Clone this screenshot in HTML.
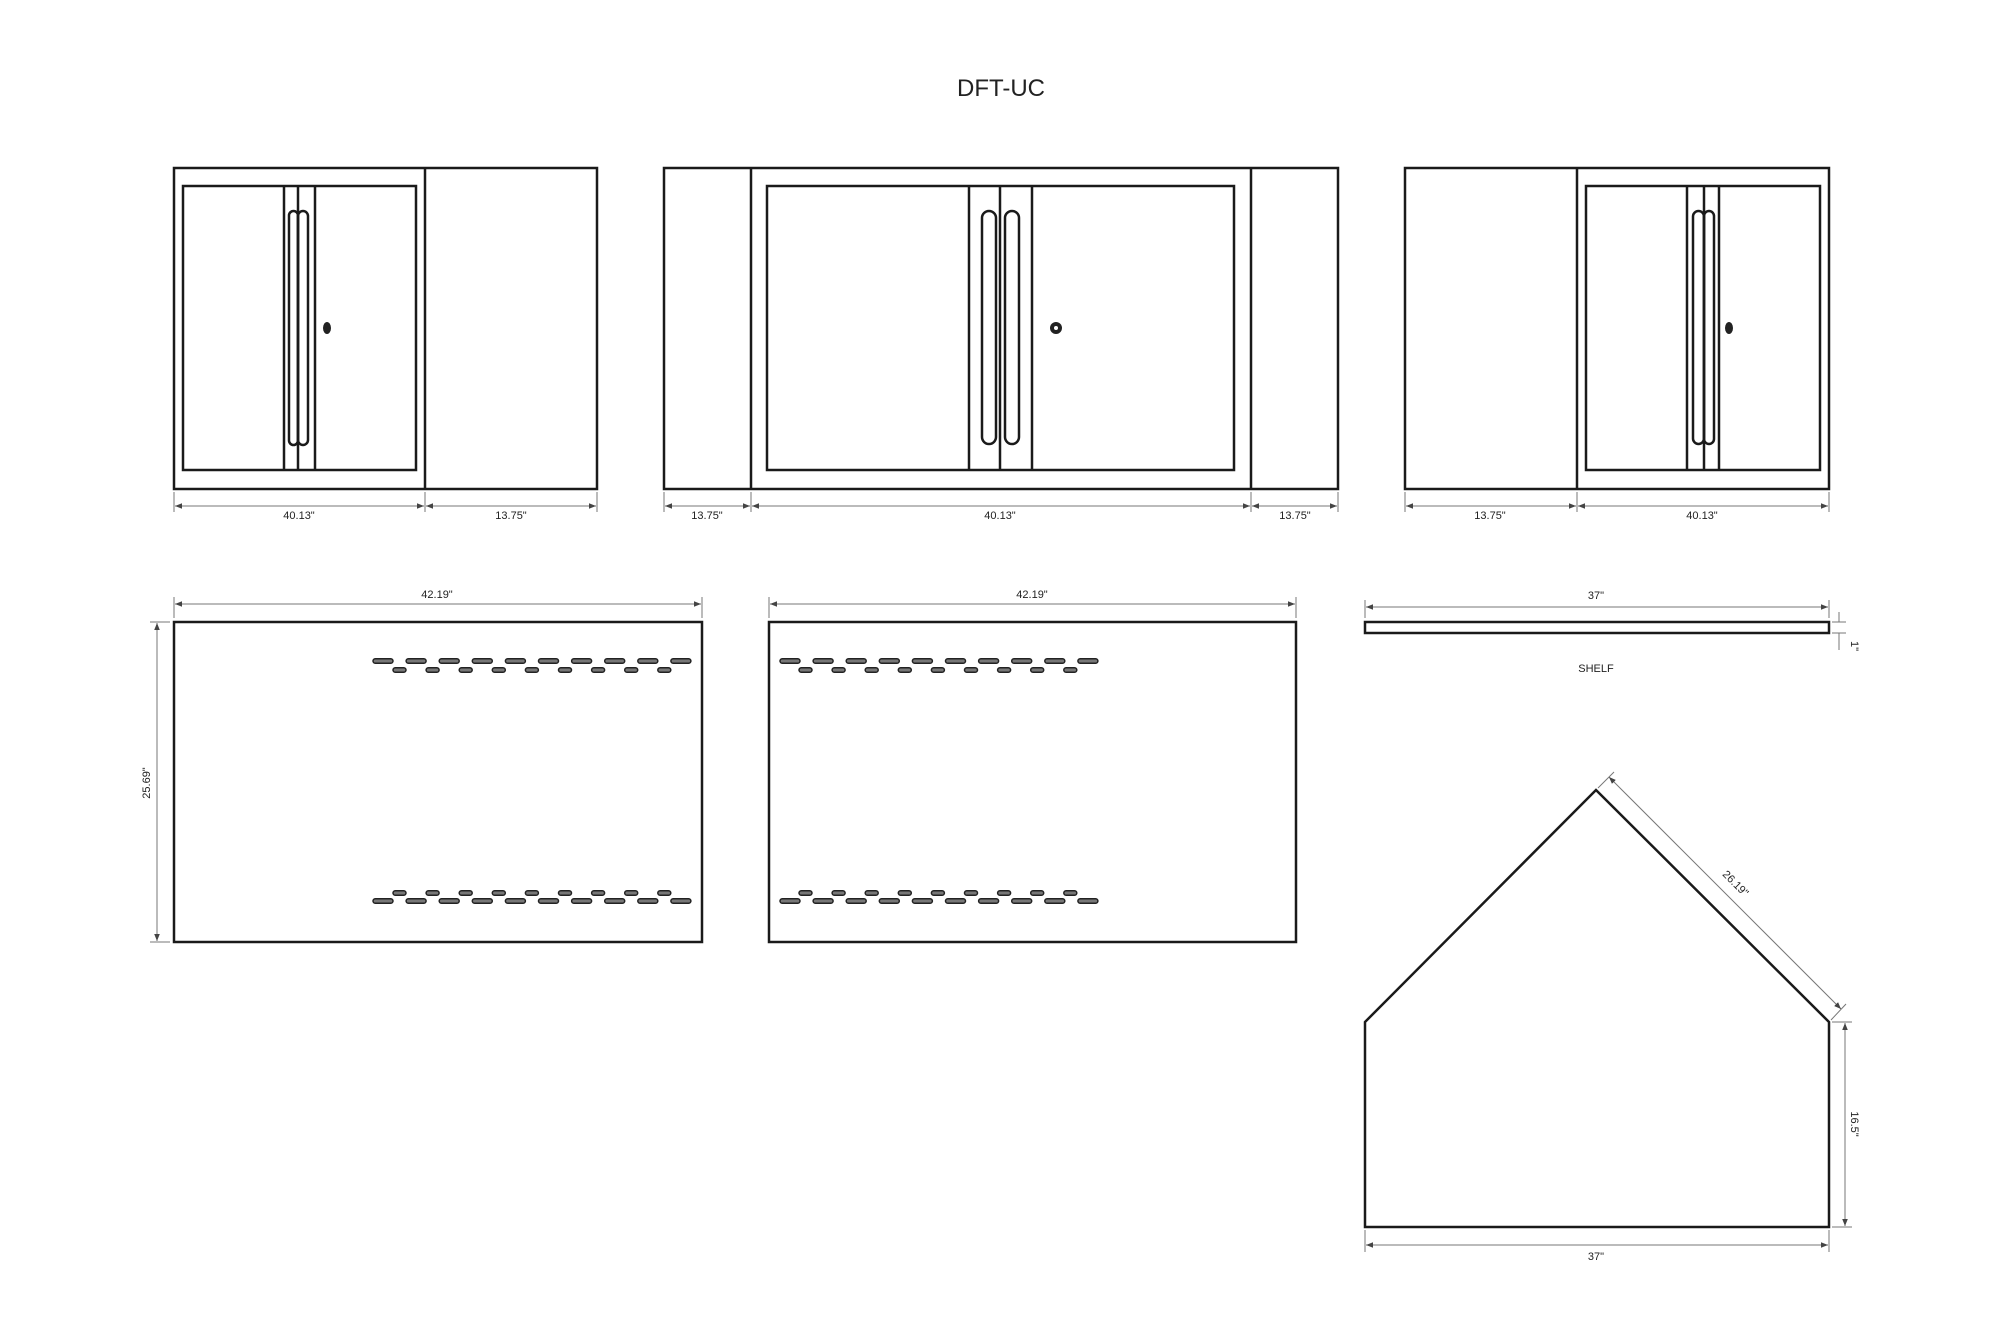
<!DOCTYPE html>
<html><head><meta charset="utf-8"><style>
html,body{margin:0;padding:0;background:#fff;}
svg{display:block;}
text{font-family:"Liberation Sans",sans-serif;fill:#222;}
</style></head><body>
<svg width="2000" height="1334" viewBox="0 0 2000 1334" xmlns="http://www.w3.org/2000/svg">
<defs>
<marker id="a" viewBox="0 0 10 10" refX="10" refY="5" markerWidth="7" markerHeight="7" orient="auto-start-reverse"><path d="M0,1 L10,5 L0,9 z" fill="#444"/></marker>
<g id="l"><rect x="0" y="-2.3" width="20" height="4.6" rx="2.3" fill="#777" stroke="#222" stroke-width="1.5"/></g>
<g id="s"><rect x="0" y="-2.3" width="13" height="4.6" rx="2.3" fill="#777" stroke="#222" stroke-width="1.5"/></g>
<g id="lrow"><use href="#l" x="0"/><use href="#l" x="33.1"/><use href="#l" x="66.2"/><use href="#l" x="99.3"/><use href="#l" x="132.4"/><use href="#l" x="165.5"/><use href="#l" x="198.6"/><use href="#l" x="231.7"/><use href="#l" x="264.8"/><use href="#l" x="297.9"/></g>
<g id="srow"><use href="#s" x="0"/><use href="#s" x="33.1"/><use href="#s" x="66.2"/><use href="#s" x="99.3"/><use href="#s" x="132.4"/><use href="#s" x="165.5"/><use href="#s" x="198.6"/><use href="#s" x="231.7"/><use href="#s" x="264.8"/></g>
</defs>
<text x="1001" y="96" font-size="24" text-anchor="middle">DFT-UC</text>

<g fill="none" stroke="#1a1a1a" stroke-width="2.5">
<!-- left cabinet -->
<rect x="174" y="168" width="423" height="321"/>
<line x1="425" y1="168" x2="425" y2="489"/>
<rect x="183" y="186" width="233" height="284"/>
<line x1="284" y1="186" x2="284" y2="470"/>
<line x1="298" y1="186" x2="298" y2="470"/>
<line x1="315" y1="186" x2="315" y2="470"/>
<rect x="289" y="211" width="9" height="234" rx="4.5"/>
<rect x="298" y="211" width="10" height="234" rx="5"/>
<!-- middle cabinet -->
<rect x="664" y="168" width="674" height="321"/>
<line x1="751" y1="168" x2="751" y2="489"/>
<line x1="1251" y1="168" x2="1251" y2="489"/>
<rect x="767" y="186" width="467" height="284"/>
<line x1="969" y1="186" x2="969" y2="470"/>
<line x1="1000" y1="186" x2="1000" y2="470"/>
<line x1="1032" y1="186" x2="1032" y2="470"/>
<rect x="982" y="211" width="14" height="233" rx="7"/>
<rect x="1005" y="211" width="14" height="233" rx="7"/>
<!-- right cabinet -->
<rect x="1405" y="168" width="424" height="321"/>
<line x1="1577" y1="168" x2="1577" y2="489"/>
<rect x="1586" y="186" width="234" height="284"/>
<line x1="1687" y1="186" x2="1687" y2="470"/>
<line x1="1704" y1="186" x2="1704" y2="470"/>
<line x1="1719" y1="186" x2="1719" y2="470"/>
<rect x="1693" y="211" width="11" height="233" rx="5.5"/>
<rect x="1704" y="211" width="10" height="233" rx="5"/>
<!-- panels -->
<rect x="174" y="622" width="528" height="320"/>
<rect x="769" y="622" width="527" height="320"/>
<!-- shelf -->
<rect x="1365" y="622" width="464" height="11"/>
<!-- pentagon -->
<polygon points="1365,1022 1596,790 1829,1022 1829,1227 1365,1227"/>
</g>
<!-- locks -->
<ellipse cx="327" cy="328" rx="4" ry="6" fill="#222"/>
<circle cx="1056" cy="328" r="6" fill="#222"/><circle cx="1056" cy="328" r="2" fill="#fff"/>
<ellipse cx="1729" cy="328" rx="4" ry="6" fill="#222"/>

<!-- slots -->
<use href="#lrow" x="373" y="661"/><use href="#srow" x="393" y="670"/>
<use href="#srow" x="393" y="893"/><use href="#lrow" x="373" y="901"/>
<use href="#lrow" x="780" y="661"/><use href="#srow" x="799" y="670"/>
<use href="#srow" x="799" y="893"/><use href="#lrow" x="780" y="901"/>

<!-- dimension lines -->
<g stroke="#777" stroke-width="1" fill="none">
<line x1="174" y1="492" x2="174" y2="512"/><line x1="425" y1="492" x2="425" y2="512"/><line x1="597" y1="492" x2="597" y2="512"/>
<line x1="664" y1="492" x2="664" y2="512"/><line x1="751" y1="492" x2="751" y2="512"/><line x1="1251" y1="492" x2="1251" y2="512"/><line x1="1338" y1="492" x2="1338" y2="512"/>
<line x1="1405" y1="492" x2="1405" y2="512"/><line x1="1577" y1="492" x2="1577" y2="512"/><line x1="1829" y1="492" x2="1829" y2="512"/>
<g marker-start="url(#a)" marker-end="url(#a)">
<line x1="175" y1="506" x2="424" y2="506"/><line x1="426" y1="506" x2="596" y2="506"/>
<line x1="665" y1="506" x2="750" y2="506"/><line x1="752" y1="506" x2="1250" y2="506"/><line x1="1252" y1="506" x2="1337" y2="506"/>
<line x1="1406" y1="506" x2="1576" y2="506"/><line x1="1578" y1="506" x2="1828" y2="506"/>
<line x1="175" y1="604" x2="701" y2="604"/>
<line x1="770" y1="604" x2="1295" y2="604"/>
<line x1="157" y1="623" x2="157" y2="941"/>
<line x1="1366" y1="607" x2="1828" y2="607"/>
<line x1="1366" y1="1245" x2="1828" y2="1245"/>
<line x1="1845" y1="1023" x2="1845" y2="1226"/>
<line x1="1609" y1="777" x2="1841" y2="1009"/>
</g>
<line x1="1839" y1="612" x2="1839" y2="622"/><line x1="1839" y1="633" x2="1839" y2="650"/>
<line x1="1832" y1="622" x2="1846" y2="622"/><line x1="1832" y1="633" x2="1846" y2="633"/>
<line x1="174" y1="597" x2="174" y2="618"/><line x1="702" y1="597" x2="702" y2="618"/>
<line x1="769" y1="597" x2="769" y2="618"/><line x1="1296" y1="597" x2="1296" y2="618"/>
<line x1="150" y1="622" x2="170" y2="622"/><line x1="150" y1="942" x2="170" y2="942"/>
<line x1="1365" y1="600" x2="1365" y2="618"/><line x1="1829" y1="600" x2="1829" y2="618"/>
<line x1="1365" y1="1230" x2="1365" y2="1252"/><line x1="1829" y1="1230" x2="1829" y2="1252"/>
<line x1="1832" y1="1022" x2="1852" y2="1022"/><line x1="1832" y1="1227" x2="1852" y2="1227"/>
<line x1="1598" y1="788" x2="1614" y2="772"/><line x1="1831" y1="1020" x2="1846" y2="1004"/>
</g>
<g font-size="11" text-anchor="middle">
<text x="299" y="519">40.13"</text><text x="511" y="519">13.75"</text>
<text x="707" y="519">13.75"</text><text x="1000" y="519">40.13"</text><text x="1295" y="519">13.75"</text>
<text x="1490" y="519">13.75"</text><text x="1702" y="519">40.13"</text>
<text x="437" y="598">42.19"</text><text x="1032" y="598">42.19"</text>
<text x="1596" y="599">37"</text>
<text x="1596" y="1260">37"</text>
<text x="1596" y="672">SHELF</text>
<text transform="translate(150,783) rotate(-90)">25.69"</text>
<text transform="translate(1851,646) rotate(90)">1"</text>
<text transform="translate(1851,1124) rotate(90)">16.5"</text>
<text transform="translate(1733,886) rotate(45)">26.19"</text>
</g>
</svg>
</body></html>
